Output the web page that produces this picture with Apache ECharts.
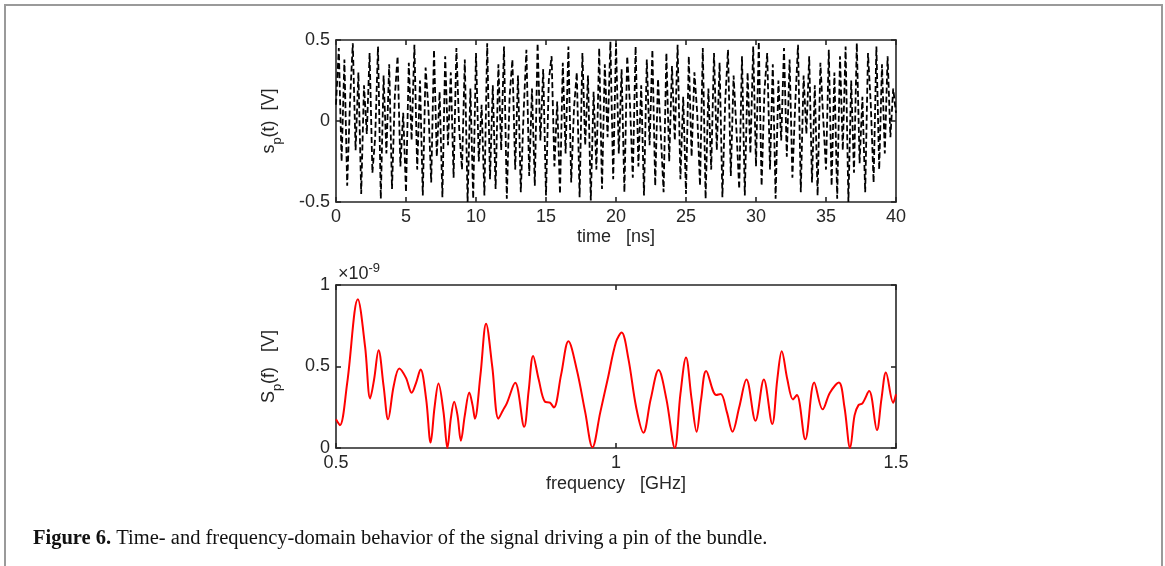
<!DOCTYPE html>
<html>
<head>
<meta charset="utf-8">
<script src="https://cdn.jsdelivr.net/npm/echarts@6/dist/echarts.min.js"></script>
<style>
html,body{margin:0;padding:0;background:#fff;}
#c{width:1165px;height:566px;}
</style>
</head>
<body>
<div id="c"></div>
<script>
// ---- Data ----
// Time-domain signal s_p(t) [V], sampled every 0.2 ns from 0 to 40 ns
const timeStep = 0.2;
const signalValues = [
  0.10, 0.45, -0.25, 0.38, -0.40, 0.12, 0.48, -0.18, 0.30, -0.45,
  0.22, -0.08, 0.42, -0.32, -0.10, 0.46, -0.48, 0.28, -0.20, 0.35,
  -0.42, 0.15, 0.40, -0.28, 0.05, -0.44, 0.36, -0.12, 0.47, -0.30,
  0.25, -0.46, 0.33, 0.08, -0.38, 0.44, -0.22, 0.18, -0.47, 0.40,
  -0.15, 0.30, -0.35, 0.45, -0.05, -0.30, 0.38, -0.50, 0.20, -0.48,
  0.42, -0.25, 0.10, -0.46, 0.48, -0.36, 0.22, -0.42, 0.35, -0.18,
  0.46, -0.48, 0.15, 0.38, -0.30, 0.28, -0.44, 0.05, 0.44, -0.34,
  0.20, -0.40, 0.48, -0.12, 0.32, -0.46, 0.25, 0.40, -0.28, 0.12,
  -0.45, 0.36, -0.20, 0.46, -0.38, 0.08, 0.30, -0.47, 0.42, -0.15,
  0.28, -0.49, 0.18, -0.30, 0.45, -0.42, 0.35, -0.10, 0.49, -0.36,
  0.48, -0.20, 0.32, -0.44, 0.40, 0.10, -0.35, 0.46, -0.28, 0.22,
  -0.46, 0.38, -0.15, 0.44, -0.40, 0.26, -0.08, -0.44, 0.42, -0.25,
  0.34, -0.12, 0.47, -0.36, 0.15, -0.45, 0.40, -0.22, 0.30, 0.05,
  -0.40, 0.45, -0.48, 0.20, -0.30, 0.42, -0.18, 0.36, -0.47, 0.12,
  0.44, -0.34, 0.28, -0.05, -0.42, 0.40, -0.46, 0.30, -0.20, 0.46,
  -0.28, 0.49, -0.40, 0.18, 0.42, -0.30, 0.35, -0.48, 0.25, -0.12,
  0.45, -0.22, 0.38, -0.35, 0.10, 0.47, -0.44, 0.28, -0.08, 0.40,
  -0.38, 0.22, -0.46, 0.36, 0.02, -0.30, 0.44, -0.40, 0.30, -0.48,
  0.40, -0.18, 0.46, -0.50, 0.25, -0.32, 0.48, -0.26, 0.15, -0.44,
  0.42, 0.10, -0.38, 0.46, -0.30, 0.35, -0.20, 0.40, -0.10, 0.20,
  0.05
];

// Frequency-domain spectrum S_p(f), units of 1e-9 V
const freqGHz = [
  0.500, 0.507, 0.520, 0.539, 0.552, 0.561, 0.568, 0.576, 0.585, 0.593,
  0.603, 0.613, 0.625, 0.635, 0.643, 0.651, 0.661, 0.669, 0.676, 0.683,
  0.692, 0.699, 0.705, 0.711, 0.717, 0.723, 0.730, 0.738, 0.744, 0.748,
  0.758, 0.768, 0.779, 0.790, 0.798, 0.805, 0.820, 0.836, 0.844, 0.852,
  0.862, 0.873, 0.882, 0.889, 0.902, 0.915, 0.930, 0.945, 0.958, 0.972,
  0.985, 1.000, 1.010, 1.022, 1.036, 1.049, 1.062, 1.076, 1.090, 1.105,
  1.115, 1.125, 1.135, 1.144, 1.152, 1.161, 1.179, 1.187, 1.198, 1.208,
  1.220, 1.233, 1.249, 1.264, 1.279, 1.288, 1.296, 1.306, 1.316, 1.323,
  1.338, 1.354, 1.369, 1.382, 1.398, 1.408, 1.418, 1.426, 1.433, 1.440,
  1.452, 1.466, 1.474, 1.482, 1.495, 1.500
];
const spectrumValues = [
  0.176, 0.140, 0.400, 0.912, 0.620, 0.304, 0.420, 0.600, 0.380, 0.176,
  0.380, 0.488, 0.430, 0.339, 0.400, 0.482, 0.300, 0.033, 0.250, 0.396,
  0.220, 0.000, 0.180, 0.284, 0.200, 0.045, 0.200, 0.341, 0.260, 0.180,
  0.450, 0.763, 0.500, 0.180, 0.230, 0.274, 0.400, 0.130, 0.350, 0.565,
  0.420, 0.284, 0.278, 0.249, 0.450, 0.655, 0.480, 0.220, 0.004, 0.220,
  0.420, 0.650, 0.708, 0.550, 0.250, 0.094, 0.300, 0.478, 0.300, 0.000,
  0.330, 0.555, 0.300, 0.100, 0.300, 0.473, 0.325, 0.331, 0.220, 0.100,
  0.250, 0.420, 0.167, 0.420, 0.147, 0.420, 0.594, 0.420, 0.298, 0.325,
  0.053, 0.402, 0.237, 0.339, 0.402, 0.250, 0.000, 0.200, 0.263, 0.274,
  0.349, 0.110, 0.300, 0.463, 0.278, 0.330
];

const xTimeTicks = { min: 0, max: 40, interval: 5 };
const yTimeTicks = { min: -0.5, max: 0.5, interval: 0.5 };
const xFreqTicks = { min: 0.5, max: 1.5, interval: 0.5 };
const yFreqTicks = { min: 0, max: 1, interval: 0.5 };

// ---- Build ----
const signalData = signalValues.map((v, i) => [i * timeStep, v]);
const spectrumData = freqGHz.map((f, i) => [f, spectrumValues[i]]);

const AX = '#262626';
const FONT = 'Liberation Sans, Arial, Helvetica, sans-serif';

function mainAxis(grid, pos, ticks, extra) {
  return Object.assign({
    gridIndex: grid, type: 'value', position: pos,
    min: ticks.min, max: ticks.max, interval: ticks.interval,
    axisLine: { show: true, onZero: false, lineStyle: { color: AX, width: 1.6 } },
    axisTick: { show: true, inside: true, length: 5, lineStyle: { color: AX, width: 1.6 } },
    splitLine: { show: false },
    axisLabel: { show: true, color: AX, fontSize: 18, fontFamily: FONT, margin: 6,
      showMinLabel: true, showMaxLabel: true,
      formatter: v => String(+v.toFixed(2)) }
  }, extra || {});
}
function boxAxis(grid, pos, ticks) {
  return {
    gridIndex: grid, type: 'value', position: pos,
    min: ticks.min, max: ticks.max, interval: ticks.interval,
    axisLine: { show: true, onZero: false, lineStyle: { color: AX, width: 1.6 } },
    axisTick: { show: true, inside: true, length: 5, lineStyle: { color: AX, width: 1.6 } },
    splitLine: { show: false },
    axisLabel: { show: false }
  };
}

const nameStyle = {
  color: AX, fontSize: 18, fontFamily: FONT,
  rich: {
    a: { fontSize: 18, fontFamily: FONT, color: AX, lineHeight: 30, verticalAlign: 'middle' },
    sub: { fontSize: 13, fontFamily: FONT, color: AX, lineHeight: 13, verticalAlign: 'bottom' }
  }
};

const option = {
  animation: false,
  backgroundColor: '#fff',
  grid: [
    { left: 336, top: 40, width: 560, height: 162 },
    { left: 336, top: 285, width: 560, height: 163 }
  ],
  xAxis: [
    mainAxis(0, 'bottom', xTimeTicks, { name: 'time   [ns]', nameLocation: 'middle', nameGap: 26,
      nameTextStyle: { color: AX, fontSize: 18, fontFamily: FONT } }),
    boxAxis(0, 'top', xTimeTicks),
    mainAxis(1, 'bottom', xFreqTicks, { name: 'frequency   [GHz]', nameLocation: 'middle', nameGap: 27,
      nameTextStyle: { color: AX, fontSize: 18, fontFamily: FONT } }),
    boxAxis(1, 'top', xFreqTicks)
  ],
  yAxis: [
    mainAxis(0, 'left', yTimeTicks, { name: '{a|s}{sub|p}{a|(t)  [V]}', nameLocation: 'middle', nameGap: 52,
      nameRotate: 90, nameTextStyle: nameStyle }),
    boxAxis(0, 'right', yTimeTicks),
    mainAxis(1, 'left', yFreqTicks, { name: '{a|S}{sub|p}{a|(f)   [V]}', nameLocation: 'middle', nameGap: 52,
      nameRotate: 90, nameTextStyle: nameStyle }),
    boxAxis(1, 'right', yFreqTicks)
  ],
  series: [
    { type: 'line', xAxisIndex: 0, yAxisIndex: 0, data: signalData, symbol: 'none',
      lineStyle: { color: '#000', width: 1.8, type: [6, 3] }, silent: true },
    { type: 'line', xAxisIndex: 2, yAxisIndex: 2, data: spectrumData, symbol: 'none', smooth: 0.35,
      lineStyle: { color: '#ff0000', width: 2 }, silent: true }
  ],
  graphic: [
    { type: 'rect', shape: { x: 5, y: 5, width: 1157, height: 600 },
      style: { fill: 'none', stroke: '#9a9a9a', lineWidth: 2 }, silent: true },
    { type: 'text', left: 338, top: 262,
      style: { text: '{a|×10}{sup|-9}', rich: {
        a: { fontSize: 18, fontFamily: FONT, fill: AX, lineHeight: 24, verticalAlign: 'middle' },
        sup: { fontSize: 13, fontFamily: FONT, fill: AX, lineHeight: 13, verticalAlign: 'top' } } } },
    { type: 'text', left: 33, top: 528,
      style: { text: '{b|Figure 6.}{r| Time- and frequency-domain behavior of the signal driving a pin of the bundle.}',
        rich: {
          b: { fontSize: 20.5, fontFamily: 'Liberation Serif, serif', fontWeight: 'bold', fill: '#111' },
          r: { fontSize: 20.5, fontFamily: 'Liberation Serif, serif', fill: '#111' } } } }
  ]
};

const chart = echarts.init(document.getElementById('c'), null, { renderer: 'canvas' });
chart.setOption(option);
</script>
</body>
</html>
